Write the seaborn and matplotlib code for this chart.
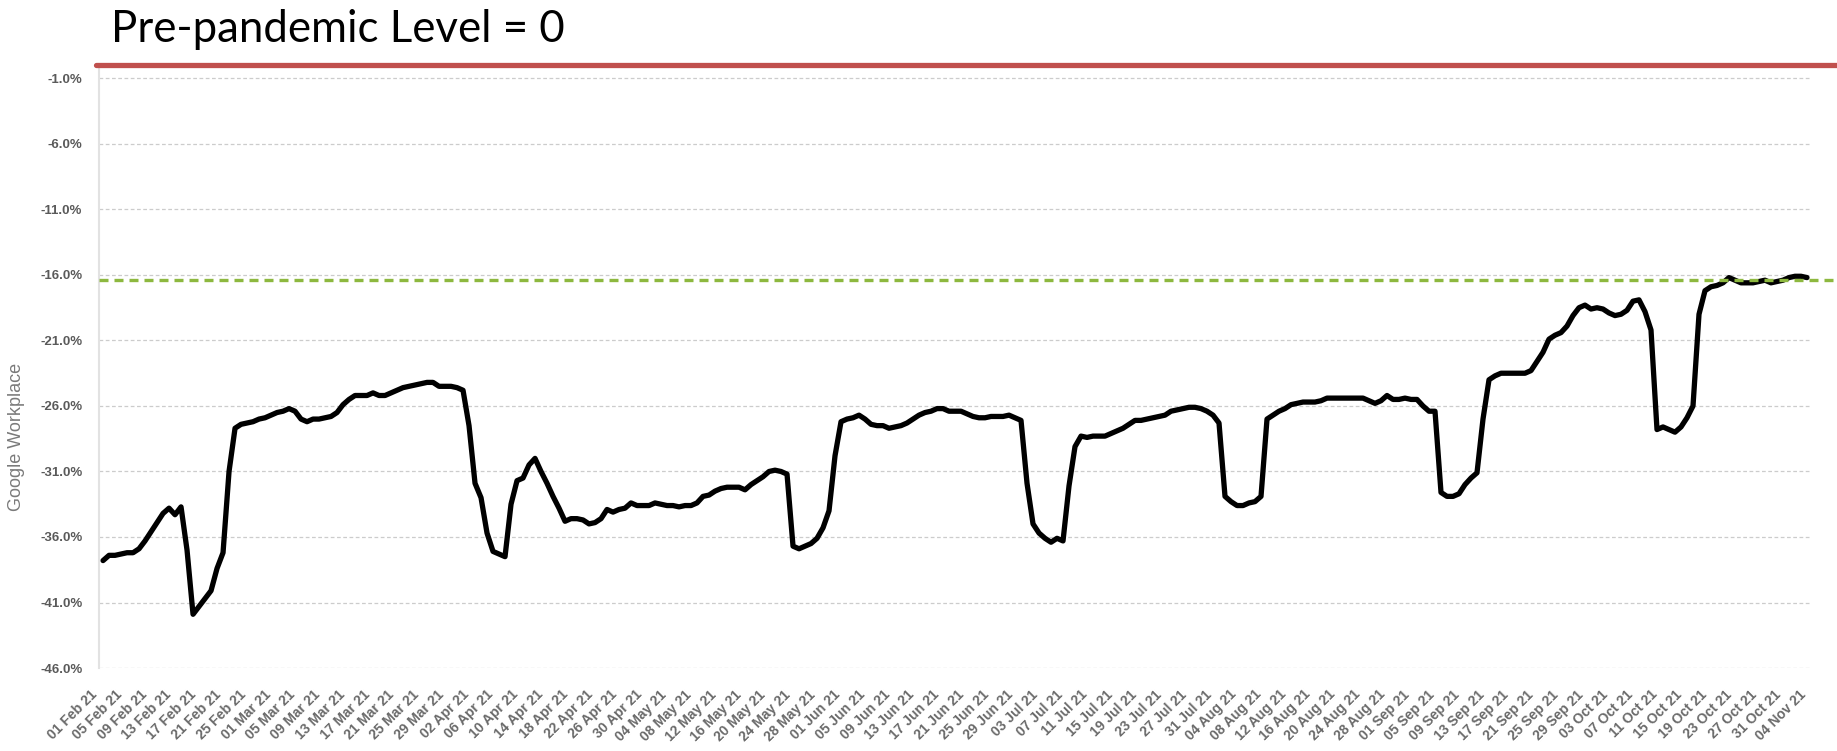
import numpy as np
import pandas as pd
import seaborn as sns
import matplotlib.pyplot as plt

# daily workplace mobility (% change vs baseline)
workplace = [
    -37.8, -37.4, -37.4, -37.3, -37.2, -37.2, -36.9, -36.3, -35.6, -34.9,
    -34.2, -33.8, -34.3, -33.7, -37.0, -41.9, -41.3, -40.7, -40.1, -38.4,
    -37.2, -31.0, -27.7, -27.4, -27.3, -27.2, -27.0, -26.9, -26.7, -26.5,
    -26.4, -26.2, -26.4, -27.0, -27.2, -27.0, -27.0, -26.9, -26.8, -26.5,
    -25.9, -25.5, -25.2, -25.2, -25.2, -25.0, -25.2, -25.2, -25.0, -24.8,
    -24.6, -24.5, -24.4, -24.3, -24.2, -24.2, -24.5, -24.5, -24.5, -24.6,
    -24.8, -27.5, -31.9, -33.0, -35.7, -37.1, -37.3, -37.5, -33.5, -31.7,
    -31.5, -30.5, -30.0, -31.0, -31.9, -32.9, -33.8, -34.8, -34.6, -34.6,
    -34.7, -35.0, -34.9, -34.6, -33.9, -34.1, -33.9, -33.8, -33.4, -33.6,
    -33.6, -33.6, -33.4, -33.5, -33.6, -33.6, -33.7, -33.6, -33.6, -33.4,
    -32.9, -32.8, -32.5, -32.3, -32.2, -32.2, -32.2, -32.4, -32.0, -31.7,
    -31.4, -31.0, -30.9, -31.0, -31.2, -36.7, -36.9, -36.7, -36.5, -36.1,
    -35.3, -34.0, -29.8, -27.2, -27.0, -26.9, -26.7, -27.0, -27.4, -27.5,
    -27.5, -27.7, -27.6, -27.5, -27.3, -27.0, -26.7, -26.5, -26.4, -26.2,
    -26.2, -26.4, -26.4, -26.4, -26.6, -26.8, -26.9, -26.9, -26.8, -26.8,
    -26.8, -26.7, -26.9, -27.1, -31.9, -35.0, -35.7, -36.1, -36.4, -36.1,
    -36.3, -32.1, -29.1, -28.3, -28.4, -28.3, -28.3, -28.3, -28.1, -27.9,
    -27.7, -27.4, -27.1, -27.1, -27.0, -26.9, -26.8, -26.7, -26.4, -26.3,
    -26.2, -26.1, -26.1, -26.2, -26.4, -26.7, -27.3, -32.9, -33.3, -33.6,
    -33.6, -33.4, -33.3, -32.9, -27.0, -26.7, -26.4, -26.2, -25.9, -25.8,
    -25.7, -25.7, -25.7, -25.6, -25.4, -25.4, -25.4, -25.4, -25.4, -25.4,
    -25.4, -25.6, -25.8, -25.6, -25.2, -25.5, -25.5, -25.4, -25.5, -25.5,
    -26.0, -26.4, -26.4, -32.6, -32.9, -32.9, -32.7, -32.0, -31.5, -31.1,
    -27.0, -24.0, -23.7, -23.5, -23.5, -23.5, -23.5, -23.5, -23.3, -22.6,
    -21.9, -20.9, -20.6, -20.4, -19.9, -19.1, -18.5, -18.3, -18.6, -18.5,
    -18.6, -18.9, -19.1, -19.0, -18.7, -18.0, -17.9, -18.8, -20.2, -27.8,
    -27.6, -27.8, -28.0, -27.6, -26.9, -26.0, -19.0, -17.2, -16.9, -16.8,
    -16.6, -16.2, -16.4, -16.6, -16.6, -16.6, -16.5, -16.4, -16.6, -16.5,
    -16.4, -16.2, -16.1, -16.1, -16.2,
]
tick_labels = list(pd.date_range('2021-02-01', '2021-11-04', freq='4D').strftime('%d %b %y'))
y_ticks = [-1, -6, -11, -16, -21, -26, -31, -36, -41, -46]
pre_pandemic = 0
recent_level = -16.4

df = pd.DataFrame({'day': np.arange(len(workplace)), 'workplace': workplace})

sns.set_theme(style='white')
plt.rcParams['font.family'] = ['Liberation Sans', 'DejaVu Sans']

fig = plt.figure(figsize=(18.37, 7.51), dpi=100)
ax = fig.add_axes([0.0539, 0.1105, 0.9314, 0.8025])

sns.lineplot(data=df, x='day', y='workplace', color='black', linewidth=3.8, ax=ax)

# reference lines
ax.axhline(recent_level, color='#8db83f', linewidth=2.4, linestyle=(0, (2.7, 1.8)),
           xmin=0, xmax=1.02, clip_on=False, zorder=3)
ax.axhline(pre_pandemic, color='#c0504d', linewidth=3.8,
           xmin=-0.002, xmax=1.02, clip_on=False, zorder=4)

ax.set_xlim(-0.67, 284.5)
ax.set_ylim(-46, 0)

ax.set_yticks(y_ticks)
ax.set_yticklabels([f'{v:.1f}%' for v in y_ticks], color='#5a5a5a', fontsize=9.5,
                   fontweight='bold')
# labels every 4th day, spread across the full width as in the source chart
ax.set_xticks(np.linspace(-0.5, 284.3, len(tick_labels)))
ax.set_xticklabels(tick_labels, rotation=45, ha='right', color='#6a6a6a', fontsize=10,
                   fontweight='bold')
ax.tick_params(axis='both', length=0)
ax.tick_params(axis='x', pad=14)
ax.tick_params(axis='y', pad=12)

ax.yaxis.grid(True, linestyle=(0, (3, 2)), color='#cccccc', linewidth=0.9)
ax.xaxis.grid(False)
for s in ['top', 'right', 'bottom']:
    ax.spines[s].set_visible(False)
ax.spines['left'].set_color('#e2e2e2')
ax.spines['left'].set_linewidth(1.5)

ax.set_xlabel('')
ax.set_ylabel('Google Workplace', color='#7a7a7a', fontsize=13)
ax.yaxis.set_label_coords(-0.043, 0.383)

fig.text(0.0604, 0.944, 'Pre-pandemic Level = 0', fontsize=31.5, family='Lato',
         color='black', ha='left', va='baseline')

plt.savefig('out.png', dpi=100)
